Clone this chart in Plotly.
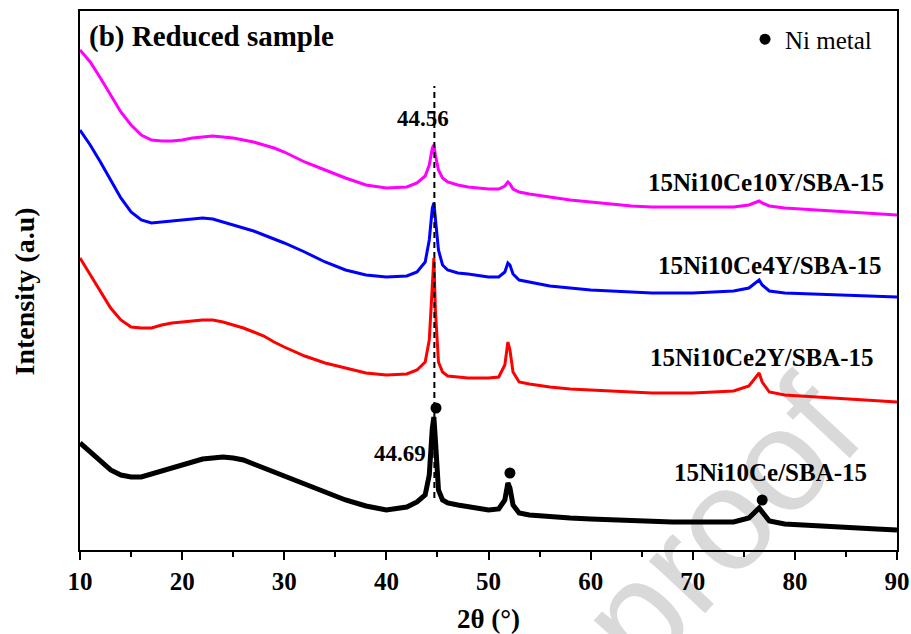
import plotly.graph_objects as go

# 2-theta grid (degrees)
two_theta = [10, 11, 12, 13, 14, 15, 16, 17, 18, 19, 20, 21, 22, 23, 24, 25, 26, 27, 28, 29, 30,
             32, 34, 36, 38, 40, 42, 43, 43.8, 44.2, 44.5, 44.65, 44.8, 45.1, 45.5, 46, 47, 48,
             50, 51, 51.6, 51.9, 52.1, 52.4, 53, 54, 56, 58, 60, 62, 64, 66, 68, 70, 72, 74,
             75.5, 76.2, 76.5, 76.8, 77.5, 79, 82, 85, 88, 90]

# Intensities (a.u., stacked offsets)
i_10y = [500, 488, 472, 455, 438, 425, 415, 410, 409, 409, 410, 412, 413, 414, 413, 412, 410, 408, 405, 402, 398,
         388, 380, 372, 365, 362, 363, 367, 374, 385, 402, 405, 395, 380, 372, 368, 365, 363,
         361, 361, 364, 368, 366, 361, 358, 356, 353, 350, 348, 346, 344, 343, 343, 343, 343, 343,
         345, 348, 349, 347, 344, 342, 340, 338, 336, 335]
i_4y = [420, 405, 388, 370, 352, 338, 330, 327, 328, 329, 330, 331, 332, 331, 328, 325, 322, 319, 315, 311, 307,
        298, 288, 280, 275, 273, 274, 278, 288, 310, 342, 347, 330, 300, 285, 280, 277, 276,
        273, 273, 278, 287, 285, 276, 270, 268, 264, 262, 260, 259, 258, 257, 257, 257, 258, 259,
        262, 267, 270, 265, 259, 257, 256, 255, 254, 253]
i_2y = [292, 275, 258, 242, 230, 223, 222, 222, 225, 227, 228, 229, 230, 230, 228, 225, 222, 218, 214, 208, 203,
        194, 187, 182, 177, 175, 176, 180, 188, 210, 265, 292, 240, 188, 178, 174, 173, 172,
        172, 173, 185, 208, 200, 178, 168, 166, 163, 161, 160, 159, 158, 157, 157, 157, 158, 159,
        164, 173, 177, 168, 158, 155, 153, 151, 149, 148]
i_ce = [107, 98, 88, 80, 75, 73, 73, 76, 80, 83, 86, 89, 91, 92, 93, 92, 90, 86, 82, 77, 73,
        65, 57, 50, 44, 40, 43, 48, 55, 75, 122, 133, 110, 60, 50, 47, 45, 43,
        40, 41, 50, 67, 62, 45, 37, 35, 33, 32, 31, 30, 29, 28, 28, 28, 28, 28,
        32, 40, 42, 38, 29, 26, 24, 23, 21, 20]

# Ni metal reflection markers
ni_x = [44.86, 52.1, 76.8]
ni_y = [142, 77, 50]

# Reference line of the main Ni peak
ref_x = [44.7, 44.7]
ref_y = [52, 464]

series_names = ["15Ni10Ce10Y/SBA-15", "15Ni10Ce4Y/SBA-15", "15Ni10Ce2Y/SBA-15", "15Ni10Ce/SBA-15"]
series_vals = [i_10y, i_4y, i_2y, i_ce]
series_colors = ["#ff00ff", "#0000ff", "#ff0000", "#000000"]
series_widths = [3, 3, 3, 5]

SERIF = "Liberation Serif"

fig = go.Figure()
for name, vals, col, w in zip(series_names, series_vals, series_colors, series_widths):
    fig.add_trace(go.Scatter(x=two_theta, y=vals, mode="lines", name=name,
                             line=dict(color=col, width=w), showlegend=False))

fig.add_trace(go.Scatter(x=ref_x, y=ref_y, mode="lines", showlegend=False,
                         line=dict(color="black", width=2, dash="6px,4px")))
fig.add_trace(go.Scatter(x=ni_x, y=ni_y, mode="markers", name="Ni metal",
                         marker=dict(color="black", size=11), showlegend=True))

# labels
lab_pos = [(88.9, 368), (88.75, 285), (87.95, 193), (87.25, 78)]
for name, (lx, ly) in zip(series_names, lab_pos):
    fig.add_annotation(x=lx, y=ly, xref="x", yref="y", text="<b>%s</b>" % name,
                       showarrow=False, xanchor="right", yanchor="middle",
                       font=dict(family=SERIF, size=25, color="black"))

fig.add_annotation(x=43.6, y=432, xref="x", yref="y", text="<b>44.56</b>", showarrow=False,
                   xanchor="center", yanchor="middle", font=dict(family=SERIF, size=23, color="black"))
fig.add_annotation(x=44.1, y=97, xref="x", yref="y", text="<b>44.69</b>", showarrow=False,
                   xanchor="right", yanchor="middle", font=dict(family=SERIF, size=23, color="black"))

fig.add_annotation(x=0.008, y=(550 - 37) / 539, xref="paper", yref="paper", text="<b>(b) Reduced sample</b>",
                   showarrow=False, xanchor="left", yanchor="middle",
                   font=dict(family=SERIF, size=29, color="black"))

fig.add_annotation(x=-0.068, y=(550 - 291) / 539, xref="paper", yref="paper", text="<b>Intensity (a.u)</b>",
                   showarrow=False, xanchor="center", yanchor="middle", textangle=-90,
                   font=dict(family=SERIF, size=28, color="black"))

# watermark
fig.add_shape(type="rect", xref="paper", yref="paper", x0=0.74, x1=0.80, y0=0.045, y1=0.085,
              line=dict(width=0), fillcolor="rgba(0,0,0,0)", layer="below",
              label=dict(text="proof", textangle=-47, textposition="middle center",
                         font=dict(family="Liberation Sans", size=145, color="#d9d9d9")))

fig.update_layout(
    width=911, height=634,
    margin=dict(l=80, r=14, t=11, b=84, autoexpand=False),
    paper_bgcolor="white", plot_bgcolor="rgba(0,0,0,0)",
    legend=dict(x=0.814, y=0.99, xanchor="left", yanchor="top", bgcolor="rgba(0,0,0,0)",
                font=dict(family=SERIF, size=25, color="black")),
    xaxis=dict(range=[10, 90], tick0=10, dtick=10, ticks="outside", ticklen=8, tickwidth=2,
               tickcolor="black", showline=True, linecolor="black", linewidth=2, mirror=True,
               showgrid=False, zeroline=False,
               minor=dict(dtick=5, ticks="outside", ticklen=5, tickwidth=1.5, tickcolor="black"),
               tickfont=dict(family=SERIF, size=25, color="black", weight="bold"),
               title=dict(text="<b>2θ (°)</b>", font=dict(family=SERIF, size=27, color="black"),
                          standoff=17)),
    yaxis=dict(range=[0, 539], showticklabels=False, ticks="", showline=True, linecolor="black",
               linewidth=2, mirror=True, showgrid=False, zeroline=False),
)

fig.write_html("out.html")
